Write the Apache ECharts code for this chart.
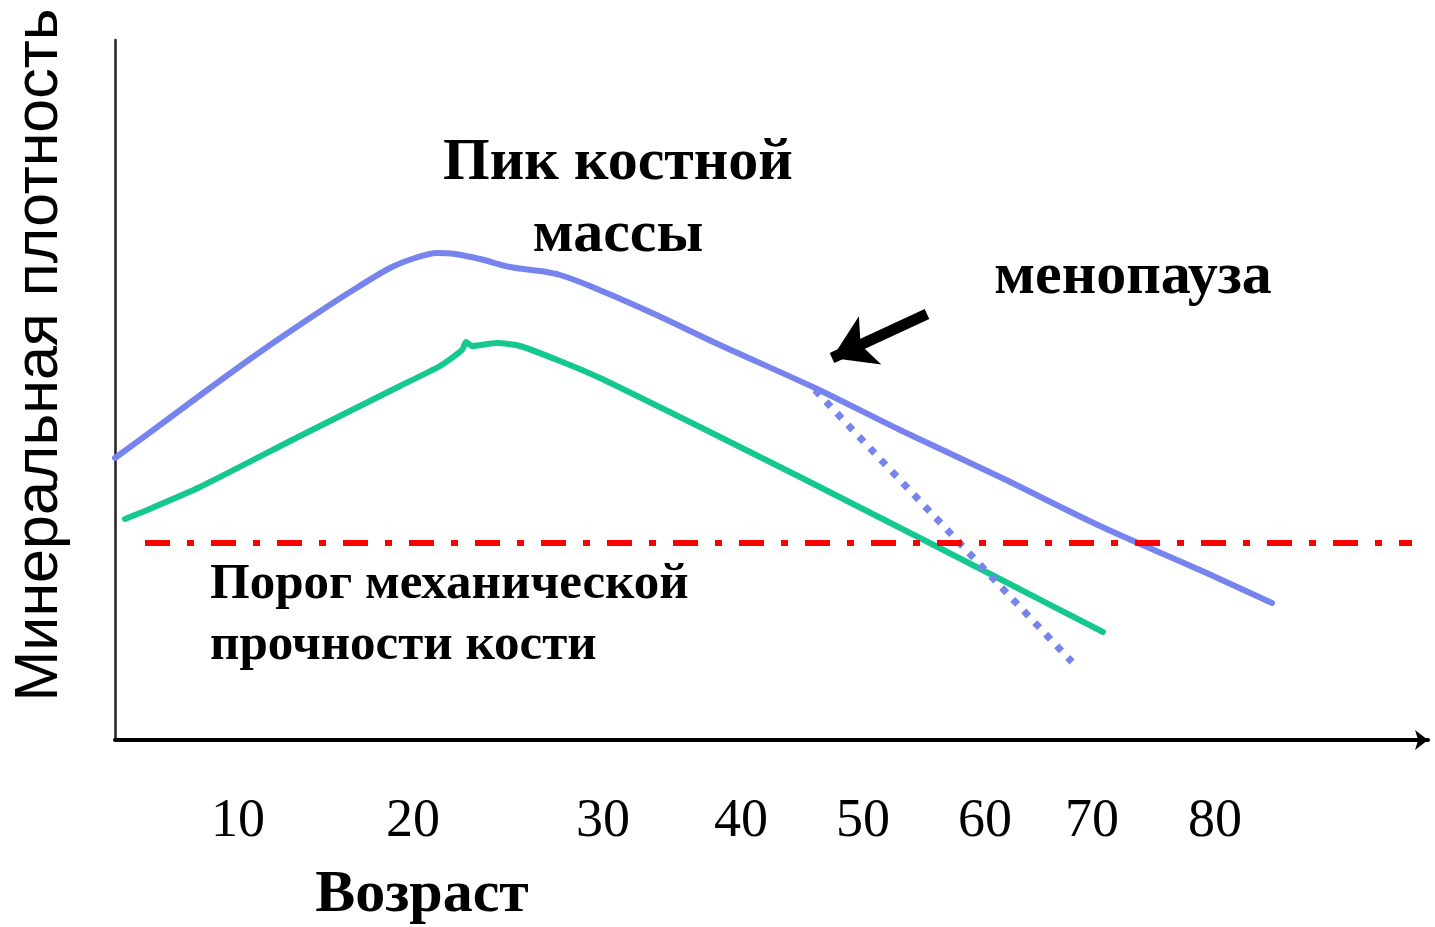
<!DOCTYPE html>
<html>
<head>
<meta charset="utf-8">
<script src="https://cdn.jsdelivr.net/npm/echarts@6/dist/echarts.min.js"></script>
<style>
  html, body { margin: 0; padding: 0; background: #fff; }
  #chart { width: 1435px; height: 927px; }
</style>
</head>
<body>
<div id="chart"></div>
<script>
// x in diagram units (0 = y axis), y in density units (0 = x axis)
const tickPos = [123, 298, 488, 626, 748, 870, 977, 1100];
const tickLabels = ["10", "20", "30", "40", "50", "60", "70", "80"];

const peakCurve = [
  [0, 282], [45, 315], [95, 352], [145, 388], [195, 422], [235, 448],
  [275, 472], [300, 482], [322, 487], [340, 486], [365, 481], [395, 473],
  [425, 469], [445, 465], [475, 454], [535, 428], [605, 395], [700, 352],
  [785, 310], [885, 263], [985, 214], [1085, 170], [1157, 137]
];
const lowCurve = [
  [10, 221], [25, 227], [85, 253], [185, 304], [285, 354], [325, 374],
  [347, 390], [351, 398], [357, 394], [382, 397], [405, 394], [445, 379],
  [485, 362], [585, 313], [685, 263], [805, 202], [885, 161], [988, 108]
];
const menopauseDrop = [[700, 350], [957, 78]];
const threshold = [[30, 197], [1297, 197]];
const menopauseArrow = [[812, 426], [717, 382]];

const serif = '"Liberation Serif", "Times New Roman", serif';

const chart = echarts.init(document.getElementById('chart'));

const option = {
  animation: false,
  grid: { left: 115, right: 7, top: 40, bottom: 187 },
  xAxis: {
    type: 'value',
    min: 0,
    max: 1313,
    splitLine: { show: false },
    axisTick: { show: false },
    axisLine: {
      show: true,
      symbol: ['none', 'arrow'],
      symbolSize: [15, 13],
      lineStyle: { color: '#000', width: 4 }
    },
    axisLabel: {
      customValues: tickPos,
      margin: 55,
      color: '#000',
      fontFamily: serif,
      fontSize: 54,
      formatter: function (v) {
        return tickLabels[tickPos.indexOf(v)];
      }
    }
  },
  yAxis: {
    type: 'value',
    min: 0,
    max: 700,
    splitLine: { show: false },
    axisTick: { show: false },
    axisLabel: { show: false },
    axisLine: { show: true, lineStyle: { color: '#222', width: 2.5 } }
  },
  series: [
    {
      name: 'peak',
      type: 'line',
      data: peakCurve,
      smooth: 0.3,
      symbol: 'none',
      lineStyle: { color: '#7884ee', width: 6, cap: 'round' },
      markLine: {
        silent: true,
        symbol: ['none', 'arrow'],
        symbolSize: [40, 42],
        label: { show: false },
        lineStyle: { color: '#000', width: 11, type: 'solid' },
        data: [[
          { coord: menopauseArrow[0] },
          { coord: menopauseArrow[1] }
        ]]
      }
    },
    {
      name: 'low',
      type: 'line',
      data: lowCurve,
      smooth: 0.2,
      symbol: 'none',
      lineStyle: { color: '#14c890', width: 6, cap: 'round' }
    },
    {
      name: 'drop',
      type: 'line',
      data: menopauseDrop,
      symbol: 'none',
      lineStyle: { color: '#7884ee', width: 7, type: [7, 9] }
    },
    {
      name: 'threshold',
      type: 'line',
      data: threshold,
      symbol: 'none',
      lineStyle: { color: '#ff0000', width: 6, type: [25, 17, 7, 17] }
    }
  ],
  graphic: [
    {
      type: 'text', x: 618, y: 163,
      style: { text: 'Пик костной', font: 'bold 60px ' + serif, fill: '#000', align: 'center', verticalAlign: 'middle' }
    },
    {
      type: 'text', x: 618, y: 235,
      style: { text: 'массы', font: 'bold 60px ' + serif, fill: '#000', align: 'center', verticalAlign: 'middle' }
    },
    {
      type: 'text', x: 1133, y: 277,
      style: { text: 'менопауза', font: 'bold 60px ' + serif, fill: '#000', align: 'center', verticalAlign: 'middle' }
    },
    {
      type: 'text', x: 210, y: 585,
      style: { text: 'Порог механической', font: 'bold 51px ' + serif, fill: '#000', align: 'left', verticalAlign: 'middle' }
    },
    {
      type: 'text', x: 210, y: 646,
      style: { text: 'прочности кости', font: 'bold 51px ' + serif, fill: '#000', align: 'left', verticalAlign: 'middle' }
    },
    {
      type: 'text', x: 422, y: 895,
      style: { text: 'Возраст', font: 'bold 60px ' + serif, fill: '#000', align: 'center', verticalAlign: 'middle' }
    },
    {
      type: 'text', x: 40, y: 355, rotation: Math.PI / 2,
      style: { text: 'Минеральная плотность', font: '61px "Liberation Sans", Arial, sans-serif', fill: '#000', align: 'center', verticalAlign: 'middle' }
    }
  ]
};

chart.setOption(option);
</script>
</body>
</html>
